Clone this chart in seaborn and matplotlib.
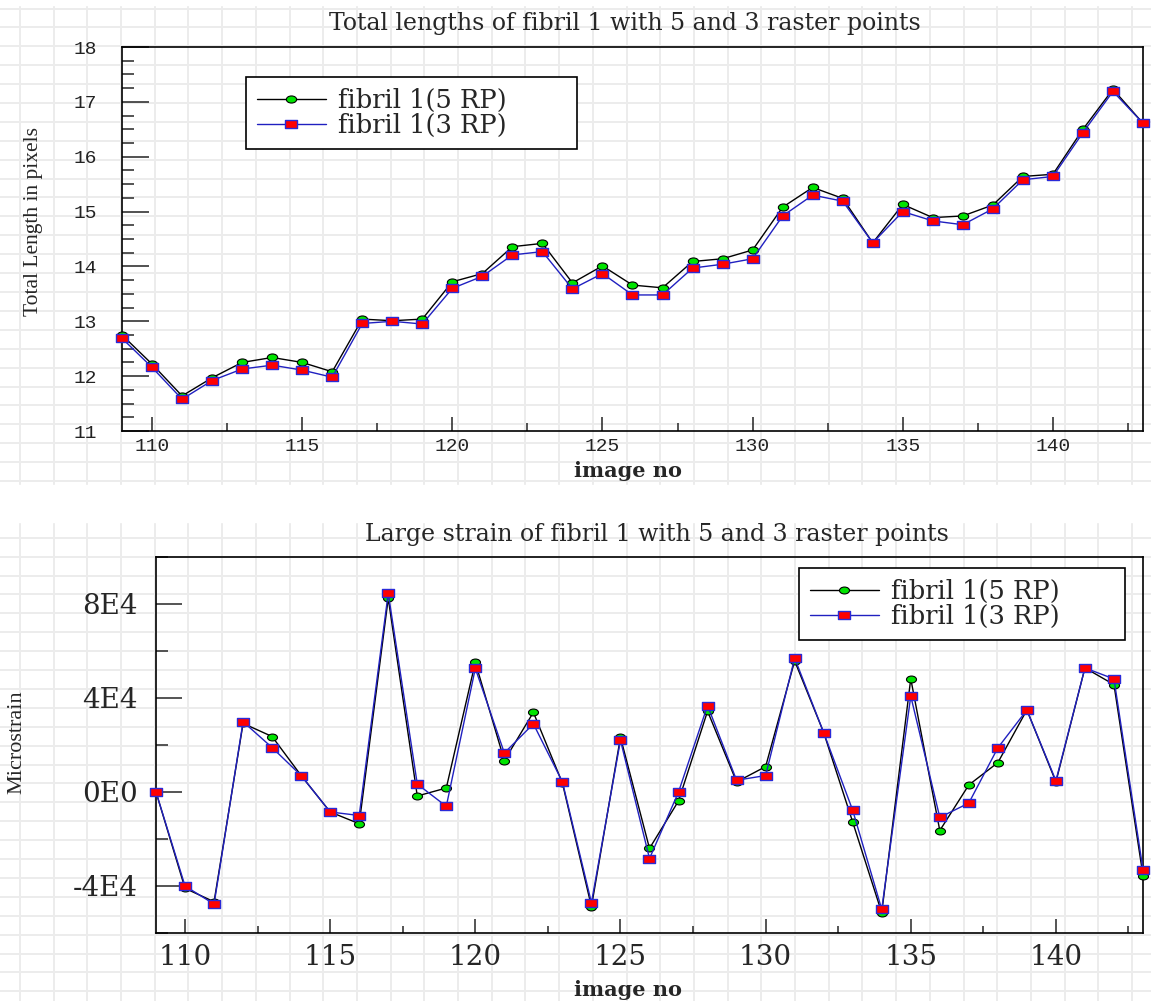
import matplotlib
matplotlib.use("Agg")
import matplotlib.pyplot as plt
import numpy as np
import pandas as pd
import seaborn as sns
from matplotlib.path import Path
from matplotlib.transforms import Affine2D
from matplotlib.ticker import MultipleLocator, FuncFormatter

# ---------------------------------------------------------------- data
image_no = list(range(109, 144))

# total fibril length (pixels)
length_5rp = [12.75, 12.22, 11.64, 11.97, 12.25, 12.34, 12.25, 12.08, 13.04, 13.01,
              13.04, 13.72, 13.87, 14.36, 14.42, 13.70, 14.01, 13.66, 13.61, 14.09,
              14.14, 14.30, 15.08, 15.44, 15.24, 14.43, 15.13, 14.89, 14.92, 15.12,
              15.64, 15.68, 16.50, 17.23, 16.61]
length_3rp = [12.69, 12.16, 11.58, 11.92, 12.13, 12.20, 12.11, 11.98, 12.96, 13.00,
              12.95, 13.60, 13.82, 14.21, 14.27, 13.59, 13.87, 13.48, 13.48, 13.97,
              14.04, 14.14, 14.92, 15.30, 15.19, 14.43, 15.00, 14.83, 14.76, 15.05,
              15.58, 15.64, 16.44, 17.19, 16.61]

# large strain (microstrain)
strain_5rp = [0, -41000, -46700, 29200, 23600, 7000, -8500, -13500, 82400, -1700,
              1700, 55200, 13400, 33900, 3800, -48800, 23300, -24000, -3800, 34400,
              4300, 10800, 55800, 25300, -12800, -51400, 48200, -16400, 3000, 12500,
              34900, 4300, 52800, 45700, -35600]
strain_3rp = [0, -40000, -47700, 29900, 18900, 7000, -8500, -10000, 84600, 3400,
              -6100, 52600, 16600, 29000, 4300, -47100, 22000, -28300, 0, 36800,
              5000, 7000, 57000, 25300, -7800, -49900, 40800, -10800, -4700, 18800,
              34900, 4800, 52800, 48100, -33100]

label_5rp = "fibril 1(5 RP)"
label_3rp = "fibril 1(3 RP)"
title_length = "Total lengths of fibril 1 with 5 and 3 raster points"
title_strain = "Large strain of fibril 1 with 5 and 3 raster points"
xlabel_text = "image no"
ylabel_length = "Total Length in pixels"
ylabel_strain = "Microstrain"

# ---------------------------------------------------------------- style
sns.set_style("white")
plt.rcParams["font.family"] = ["DejaVu Serif", "DejaVu Sans"]
plt.rcParams["axes.linewidth"] = 1.2
plt.rcParams["axes.edgecolor"] = "black"

SERIF = "DejaVu Serif"
NARROW_SERIF = "Liberation Serif"
MONO = "Liberation Mono"

GREEN = "#00e400"
RED = "#ff0000"
BLUE_LINE = "#2020c0"
BLUE_EDGE = "#2a2ad8"

# slightly wide marker shapes
ellipse_marker = Path.unit_circle().transformed(Affine2D().scale(1.45, 1.0))
rect_marker = Path.unit_rectangle().transformed(
    Affine2D().translate(-0.5, -0.5).scale(1.4, 1.0))

W, H = 1151, 1001
fig = plt.figure(figsize=(W / 100, H / 100), dpi=100)
fig.patch.set_facecolor("white")


def px_rect(x0, y0, x1, y1):
    return [x0 / W, 1 - y1 / H, (x1 - x0) / W, (y1 - y0) / H]


# graph-paper background
bg = fig.add_axes([0, 0, 1, 1], zorder=-10)
bg.set_xlim(0, W)
bg.set_ylim(H, 0)
bg.xaxis.set_major_locator(MultipleLocator(33.7, offset=20))
bg.yaxis.set_major_locator(MultipleLocator(18.9, offset=8.5))
bg.grid(True, color="#ececec", lw=1.4)
bg.tick_params(length=0, labelbottom=False, labelleft=False)
for s in bg.spines.values():
    s.set_visible(False)
bg.axhspan(485, 522, color="white", zorder=5)
bg.axhspan(0, 5, color="white", zorder=5)


def draw_pair(ax, y5, y3, ms5, ms3):
    df = pd.DataFrame({"image": image_no, "v5": y5, "v3": y3})
    sns.lineplot(data=df, x="image", y="v5", ax=ax, color="black", lw=1.0,
                 marker=ellipse_marker, markersize=ms5, markerfacecolor=GREEN,
                 markeredgecolor="black", markeredgewidth=0.8,
                 label=label_5rp, clip_on=False, zorder=3)
    sns.lineplot(data=df, x="image", y="v3", ax=ax, color=BLUE_LINE, lw=1.0,
                 marker=rect_marker, markersize=ms3, markerfacecolor=RED,
                 markeredgecolor=BLUE_EDGE, markeredgewidth=1.0,
                 label=label_3rp, clip_on=False, zorder=4)


def add_legend(ax, bbox, size):
    leg = ax.legend(loc="upper left", bbox_to_anchor=bbox, mode="expand",
                    borderaxespad=0, frameon=True, fancybox=False,
                    edgecolor="black", framealpha=1, facecolor="white",
                    handlelength=2.7, handletextpad=0.45, labelspacing=0.02,
                    borderpad=0.42, prop={"family": SERIF, "size": size})
    leg.get_frame().set_linewidth(1.2)
    return leg


# ---------------------------------------------------------------- top panel
ax1 = fig.add_axes(px_rect(122, 47, 1143, 431))
ax1.set_facecolor("none")
draw_pair(ax1, length_5rp, length_3rp, 7.4, 8.6)
ax1.set_xlim(109, 143)
ax1.set_ylim(11, 18)
ax1.xaxis.set_major_locator(MultipleLocator(5))
ax1.xaxis.set_minor_locator(MultipleLocator(5, offset=2.5))
ax1.yaxis.set_major_locator(MultipleLocator(1))
ax1.yaxis.set_minor_locator(MultipleLocator(0.25))
ax1.tick_params(axis="y", which="major", direction="in", length=19.5, width=1.1,
                pad=18, labelsize=14, colors="#222222", left=True)
ax1.tick_params(axis="y", which="minor", direction="in", length=8.6, width=1.1, left=True)
ax1.tick_params(axis="x", which="major", direction="in", length=10, width=1.1,
                pad=5, labelsize=14, colors="#222222", bottom=True)
ax1.tick_params(axis="x", which="minor", direction="in", length=5.5, width=1.1, bottom=True)
for lab in ax1.get_xticklabels() + ax1.get_yticklabels():
    lab.set_fontfamily(MONO)
ax1.set_title(title_length, fontfamily=SERIF, fontsize=17, pad=12,
              x=(625 - 122) / 1021)
ax1.set_xlabel(xlabel_text, fontfamily=SERIF, fontweight="bold", fontsize=15)
ax1.xaxis.set_label_coords((628 - 122) / 1021, -(461 - 431) / 384)
ax1.set_ylabel(ylabel_length, fontfamily=NARROW_SERIF, fontsize=15.5)
ax1.yaxis.set_label_coords((43 - 122) / 1021, (431 - 222) / 384)
add_legend(ax1, ((246 - 122) / 1021, (431 - 153) / 384,
                 (577 - 246) / 1021, (153 - 77) / 384), 18.5)

# ---------------------------------------------------------------- bottom panel
ax2 = fig.add_axes(px_rect(156, 557, 1143, 933))
ax2.set_facecolor("none")
draw_pair(ax2, strain_5rp, strain_3rp, 7.2, 8.0)
ax2.set_xlim(109, 143)
ax2.set_ylim(-60000, 100000)
ax2.xaxis.set_major_locator(MultipleLocator(5))
ax2.xaxis.set_minor_locator(MultipleLocator(5, offset=2.5))
ax2.yaxis.set_major_locator(MultipleLocator(40000))
ax2.yaxis.set_minor_locator(MultipleLocator(20000))


def e_notation(v, pos):
    if v == 0:
        return "0E0"
    exp = int(np.floor(np.log10(abs(v))))
    mant = v / 10 ** exp
    return f"{mant:g}E{exp}"


ax2.yaxis.set_major_formatter(FuncFormatter(e_notation))
ax2.tick_params(axis="y", which="major", direction="in", length=18.7, width=1.1,
                pad=13, labelsize=20, left=True)
ax2.tick_params(axis="y", which="minor", direction="in", length=8.6, width=1.1, left=True)
ax2.tick_params(axis="x", which="major", direction="in", length=10, width=1.1,
                pad=8, labelsize=20, bottom=True)
ax2.tick_params(axis="x", which="minor", direction="in", length=5, width=1.1, bottom=True)
for lab in ax2.get_xticklabels() + ax2.get_yticklabels():
    lab.set_fontfamily(SERIF)
ax2.set_title(title_strain, fontfamily=SERIF, fontsize=17, pad=11.5,
              x=(657 - 156) / 987)
ax2.set_xlabel(xlabel_text, fontfamily=SERIF, fontweight="bold", fontsize=15)
ax2.xaxis.set_label_coords((628 - 156) / 987, -(980 - 933) / 376)
ax2.set_ylabel(ylabel_strain, fontfamily=NARROW_SERIF, fontsize=16)
ax2.yaxis.set_label_coords((26 - 156) / 987, (933 - 742) / 376)
add_legend(ax2, ((799 - 156) / 987, (933 - 644) / 376,
                 (1125 - 799) / 987, (644 - 568) / 376), 18.5)

fig.savefig("out.png", dpi=100, facecolor="white")
